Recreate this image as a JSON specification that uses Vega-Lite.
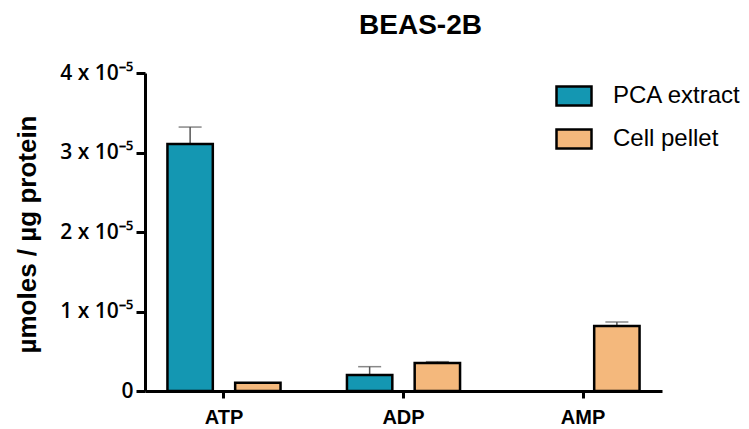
{
  "$schema": "https://vega.github.io/schema/vega-lite/v6.json",
  "width": 517,
  "height": 318,
  "autosize": {"type": "none"},
  "padding": {"left": 145, "top": 73, "right": 87, "bottom": 38},
  "background": "white",
  "title": {
    "text": "BEAS-2B",
    "font": "Liberation Sans",
    "fontSize": 28,
    "fontWeight": "bold",
    "color": "black",
    "anchor": "middle",
    "frame": "group",
    "dx": 17,
    "offset": 22
  },
  "data": {
    "values": [
      {"Nucleotide": "ATP", "Sample": "PCA extract", "value": 3.107e-5, "upper": 3.32e-5},
      {"Nucleotide": "ATP", "Sample": "Cell pellet", "value": 0.104e-5, "upper": 0.104e-5},
      {"Nucleotide": "ADP", "Sample": "PCA extract", "value": 0.2e-5, "upper": 0.306e-5},
      {"Nucleotide": "ADP", "Sample": "Cell pellet", "value": 0.352e-5, "upper": 0.369e-5},
      {"Nucleotide": "AMP", "Sample": "Cell pellet", "value": 0.818e-5, "upper": 0.868e-5}
    ]
  },
  "encoding": {
    "x": {
      "field": "Nucleotide",
      "type": "nominal",
      "sort": ["ATP", "ADP", "AMP"],
      "scale": {"paddingInner": 0.37, "paddingOuter": 0.125},
      "axis": {
        "title": null,
        "labelAngle": 0,
        "labelFont": "Liberation Sans",
        "labelFontSize": 20,
        "labelFontWeight": "bold",
        "labelColor": "black",
        "labelPadding": 9,
        "domainColor": "black",
        "domainWidth": 3,
        "tickColor": "black",
        "tickWidth": 3,
        "tickSize": 7
      }
    },
    "xOffset": {
      "field": "Sample",
      "type": "nominal",
      "sort": ["PCA extract", "Cell pellet"],
      "scale": {"domain": ["PCA extract", "Cell pellet"], "paddingInner": 0.33, "paddingOuter": 0}
    }
  },
  "layer": [
    {
      "transform": [{"filter": "datum.upper > datum.value"}],
      "mark": {"type": "rule", "color": "#555555", "strokeWidth": 1.5},
      "encoding": {
        "y": {"field": "value", "type": "quantitative"},
        "y2": {"field": "upper"}
      }
    },
    {
      "transform": [{"filter": "datum.upper > datum.value"}],
      "mark": {"type": "tick", "color": "#555555", "thickness": 1.5, "size": 23},
      "encoding": {
        "y": {"field": "upper", "type": "quantitative"}
      }
    },
    {
      "mark": {"type": "bar", "stroke": "black", "strokeWidth": 2.5},
      "encoding": {
        "y": {
          "field": "value",
          "type": "quantitative",
          "scale": {"domain": [0, 4e-5], "nice": false},
          "axis": {
            "title": "µmoles / µg protein",
            "titleFont": "Liberation Sans",
            "titleFontSize": 26,
            "titleFontWeight": "bold",
            "titleColor": "black",
            "titleAngle": -90,
            "titleAlign": "center",
            "titleBaseline": "alphabetic",
            "titleX": -110,
            "titleY": 161,
            "values": [0, 1e-5, 2e-5, 3e-5, 4e-5],
            "labelExpr": "datum.value == 0 ? '0' : round(datum.value * 1e5) + ' x 10⁻⁵'",
            "labelFont": "Open Sans",
            "labelFontWeight": 600,
            "labelFontSize": 21,
            "labelColor": "black",
            "labelPadding": 3,
            "grid": false,
            "domainColor": "black",
            "domainWidth": 3,
            "tickColor": "black",
            "tickWidth": 3,
            "tickSize": 9
          }
        },
        "fill": {
          "field": "Sample",
          "type": "nominal",
          "scale": {"domain": ["PCA extract", "Cell pellet"], "range": ["#1497b2", "#f4b87c"]},
          "legend": {
            "title": null,
            "orient": "none",
            "legendX": 410,
            "legendY": 4,
            "symbolType": "M-1,-0.54H1V0.54H-1Z",
            "symbolSize": 1225,
            "symbolStrokeColor": "black",
            "symbolStrokeWidth": 2.5,
            "labelFont": "Liberation Sans",
            "labelFontSize": 24,
            "labelColor": "black",
            "labelOffset": 20,
            "rowPadding": 9,
            "labelLimit": 300
          }
        }
      }
    }
  ],
  "config": {
    "view": {"stroke": null}
  }
}
